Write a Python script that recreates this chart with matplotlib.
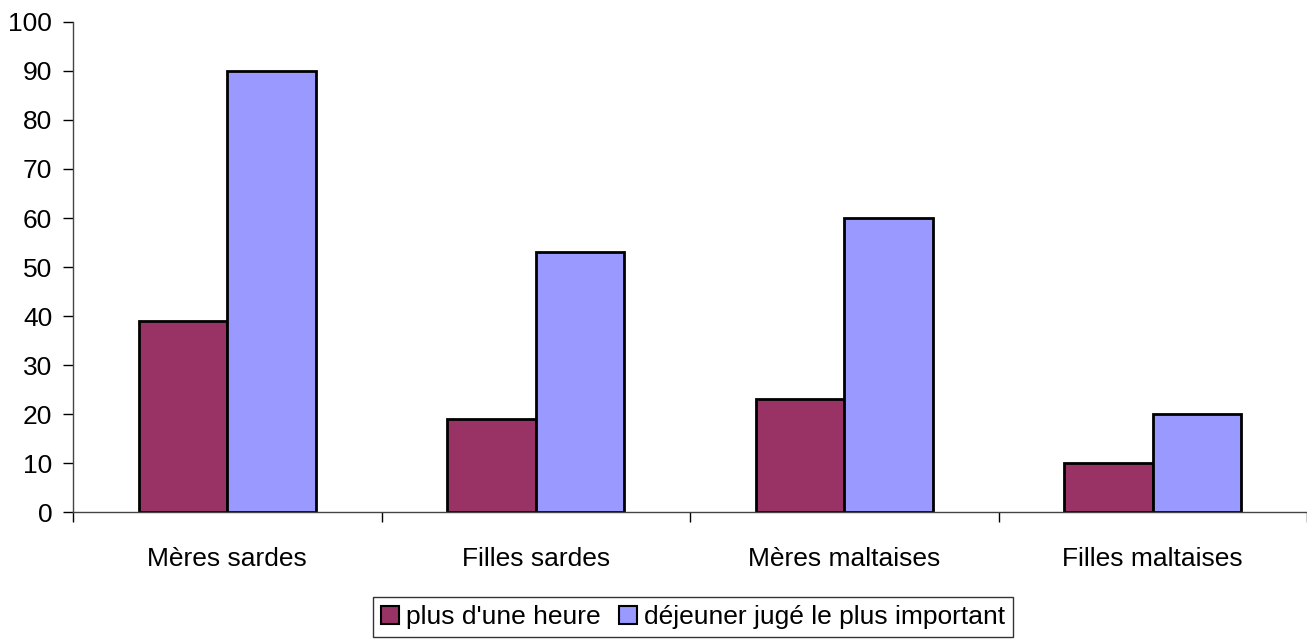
import numpy as np
import matplotlib.pyplot as plt

categories = ["Mères sardes", "Filles sardes", "Mères maltaises", "Filles maltaises"]
series_names = ["plus d'une heure", "déjeuner jugé le plus important"]
plus_une_heure = [39, 19, 23, 10]
dejeuner_important = [90, 53, 60, 20]
colors = ["#993366", "#9999FF"]

plt.rcParams['font.family'] = ['Liberation Sans', 'DejaVu Sans']

fig = plt.figure(figsize=(13.07, 6.39), dpi=100)
ax = fig.add_axes([0.0559, 0.1987, 0.9441, 0.7669])

x = np.arange(len(categories))
w = 0.287
ax.bar(x - w / 2, plus_une_heure, w, color=colors[0], edgecolor="black",
       linewidth=2, label=series_names[0])
ax.bar(x + w / 2, dejeuner_important, w, color=colors[1], edgecolor="black",
       linewidth=2, label=series_names[1])

ax.set_xlim(-0.5, len(categories) - 0.5)
ax.set_ylim(0, 100)
ax.set_yticks(range(0, 101, 10))
ax.tick_params(axis="y", labelsize=19, length=7, width=1, pad=8)

ax.set_xticks(x)
ax.set_xticklabels(categories, fontsize=19)
ax.tick_params(axis="x", which="major", length=0, pad=25)
ax.set_xticks(np.arange(-0.5, len(categories), 1.0), minor=True)
ax.tick_params(axis="x", which="minor", length=7, width=1)

for s in ["top", "right"]:
    ax.spines[s].set_visible(False)
for s in ["left", "bottom"]:
    ax.spines[s].set_color("#444444")
    ax.spines[s].set_linewidth(1)

leg = fig.legend(loc="upper center", bbox_to_anchor=(0.530, 0.065), ncol=2,
                 fontsize=19, frameon=True, fancybox=False, edgecolor="black",
                 handlelength=0.7, handleheight=0.7, handletextpad=0.25,
                 columnspacing=0.7, borderpad=0.3, borderaxespad=0)
leg.get_frame().set_linewidth(1)
for h in leg.legend_handles:
    h.set_linewidth(1.5)

fig.savefig("out.png", dpi=100)
